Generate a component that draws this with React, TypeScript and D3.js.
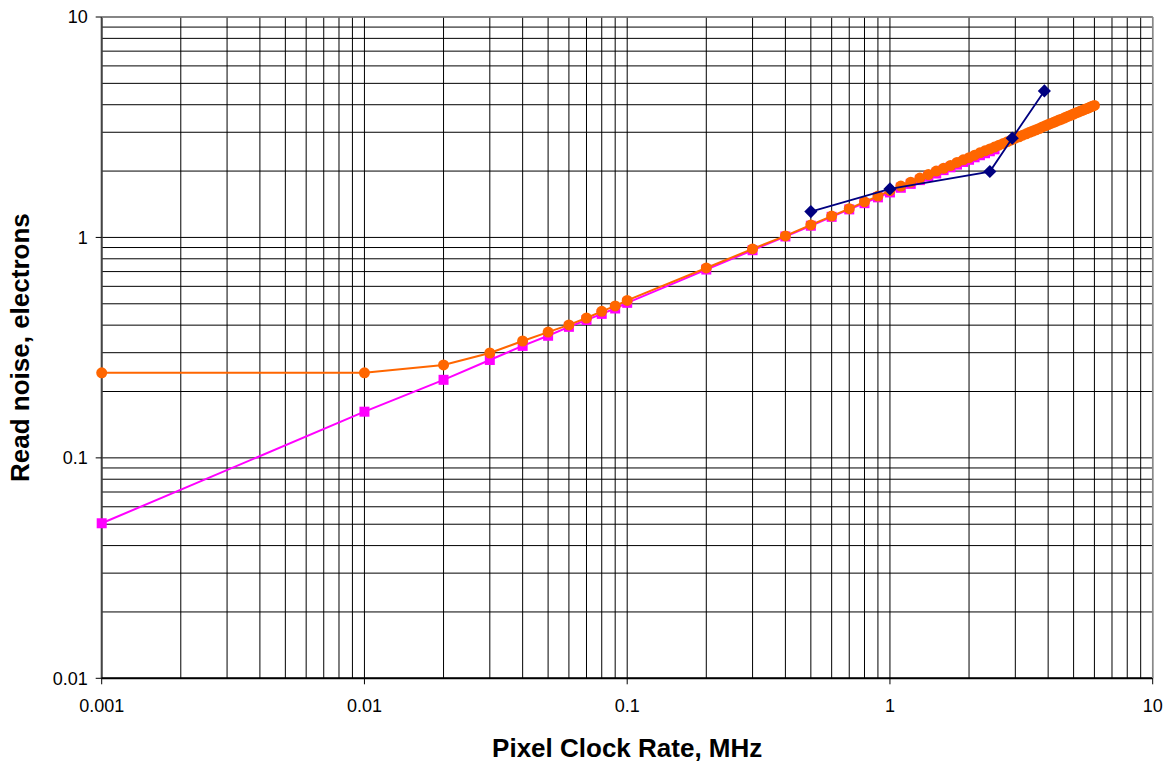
import React from "react";
import * as d3 from "d3";

const orangeX = [0.001, 0.01, 0.02, 0.03, 0.04, 0.05, 0.06, 0.07, 0.08, 0.09, 0.1, 0.2, 0.3, 0.4, 0.5, 0.6, 0.7, 0.8, 0.9, 1.0,
  1.1, 1.2, 1.3, 1.4, 1.5, 1.6, 1.7, 1.8, 1.9, 2.0, 2.1, 2.2, 2.3, 2.4, 2.5, 2.6, 2.7, 2.8, 2.9, 3.0,
  3.1, 3.2, 3.3, 3.4, 3.5, 3.6, 3.7, 3.8, 3.9, 4.0, 4.1, 4.2, 4.3, 4.4, 4.5, 4.6, 4.7, 4.8, 4.9, 5.0,
  5.1, 5.2, 5.3, 5.4, 5.5, 5.6, 5.7, 5.8, 5.9, 6.0];
const orangeY = [0.243, 0.243, 0.264, 0.299, 0.339, 0.372, 0.401, 0.431, 0.462, 0.489, 0.518, 0.727, 0.887, 1.016, 1.14, 1.25, 1.35, 1.45, 1.54, 1.63,
  1.71, 1.78, 1.86, 1.93, 2.0, 2.06, 2.12, 2.19, 2.25, 2.3, 2.36, 2.42, 2.47, 2.52, 2.57, 2.62, 2.67, 2.72, 2.77, 2.82,
  2.86, 2.91, 2.95, 3.0, 3.04, 3.08, 3.12, 3.17, 3.21, 3.25, 3.29, 3.33, 3.37, 3.41, 3.44, 3.48, 3.52, 3.56, 3.59, 3.63,
  3.67, 3.7, 3.74, 3.77, 3.81, 3.84, 3.87, 3.91, 3.94, 3.97];

const magentaX = [0.001, 0.01, 0.02, 0.03, 0.04, 0.05, 0.06, 0.07, 0.08, 0.09, 0.1, 0.2, 0.3, 0.4, 0.5, 0.6, 0.7, 0.8, 0.9, 1.0,
  1.1, 1.2, 1.3, 1.4, 1.5, 1.6, 1.7, 1.8, 1.9, 2.0, 2.1, 2.2, 2.3, 2.4, 2.5];
const magentaY = [0.0505, 0.162, 0.226, 0.278, 0.322, 0.358, 0.393, 0.422, 0.45, 0.476, 0.505, 0.715, 0.875, 1.01, 1.13, 1.24, 1.34, 1.43, 1.52, 1.6,
  1.68, 1.75, 1.82, 1.89, 1.95, 2.02, 2.08, 2.14, 2.2, 2.25, 2.31, 2.36, 2.41, 2.46, 2.51];

const navyX = [0.5, 1.0, 2.4, 2.92, 3.87];
const navyY = [1.31, 1.66, 1.99, 2.82, 4.62];

const xTicks = [0.001, 0.01, 0.1, 1, 10];
const yTicks = [0.01, 0.1, 1, 10];
const xTickLabels = ["0.001", "0.01", "0.1", "1", "10"];
const yTickLabels = ["0.01", "0.1", "1", "10"];

const W = 1170, H = 763;
const L = 101.7, R = 1152.7, T = 17, B = 678.3;

export default function App() {
  const x = d3.scaleLog().domain([0.001, 10]).range([L, R]);
  const y = d3.scaleLog().domain([0.01, 10]).range([B, T]);

  const minorX: number[] = [];
  for (let e = -3; e < 1; e++) for (let m = 1; m <= 9; m++) minorX.push(m * Math.pow(10, e));
  minorX.push(10);
  const minorY: number[] = [];
  for (let e = -2; e < 1; e++) for (let m = 1; m <= 9; m++) minorY.push(m * Math.pow(10, e));
  minorY.push(10);

  const line = d3.line<[number, number]>().x(d => x(d[0])).y(d => y(d[1]));
  const orange = orangeX.map((v, i) => [v, orangeY[i]] as [number, number]);
  const magenta = magentaX.map((v, i) => [v, magentaY[i]] as [number, number]);
  const navy = navyX.map((v, i) => [v, navyY[i]] as [number, number]);
  const font = "Liberation Sans, Arial, sans-serif";

  return (
    <div style={{ position: "absolute", left: 0, top: 0 }}>
      <svg width={W} height={H} style={{ display: "block", background: "#fff" }}>
        {minorY.map((v, i) => (
          <line key={"gy" + i} x1={L} x2={R} y1={y(v)} y2={y(v)} stroke="#000" strokeWidth={1} />
        ))}
        {minorX.map((v, i) => (
          <line key={"gx" + i} x1={x(v)} x2={x(v)} y1={T} y2={B} stroke="#000" strokeWidth={1} />
        ))}
        <line x1={L} x2={L} y1={T} y2={B} stroke="#444" strokeWidth={2} />
        <line x1={L} x2={R} y1={B} y2={B} stroke="#000" strokeWidth={2} />
        <line x1={R} x2={R} y1={T} y2={B} stroke="#888" strokeWidth={1.5} />
        <line x1={L} x2={R} y1={T} y2={T} stroke="#888" strokeWidth={1.5} />
        {yTicks.map((v, i) => (
          <g key={"yt" + i}>
            <line x1={L - 6} x2={L} y1={y(v)} y2={y(v)} stroke="#000" strokeWidth={1} />
            <text x={L - 14} y={y(v)} dy="0.36em" textAnchor="end" fontFamily={font} fontSize={18} fill="#000">{yTickLabels[i]}</text>
          </g>
        ))}
        {xTicks.map((v, i) => (
          <g key={"xt" + i}>
            <line x1={x(v)} x2={x(v)} y1={B} y2={B + 6} stroke="#000" strokeWidth={1} />
            <text x={x(v)} y={B + 34} textAnchor="middle" fontFamily={font} fontSize={18} fill="#000">{xTickLabels[i]}</text>
          </g>
        ))}
        <path d={line(magenta) || ""} fill="none" stroke="#FF00FF" strokeWidth={2} />
        {magenta.map((d, i) => (
          <rect key={"m" + i} x={x(d[0]) - 5} y={y(d[1]) - 5} width={10} height={10} fill="#FF00FF" />
        ))}
        <path d={line(orange) || ""} fill="none" stroke="#FF6600" strokeWidth={2} />
        {orange.map((d, i) => (
          <circle key={"o" + i} cx={x(d[0])} cy={y(d[1])} r={5.5} fill="#FF6600" />
        ))}
        <path d={line(navy) || ""} fill="none" stroke="#000080" strokeWidth={1.8} />
        {navy.map((d, i) => (
          <path key={"n" + i} d={d3.symbol(d3.symbolDiamond2, 110)() || ""} transform={`translate(${x(d[0])},${y(d[1])})`} fill="#000080" />
        ))}
        <text x={(L + R) / 2} y={757} textAnchor="middle" fontFamily={font} fontWeight="bold" fontSize={26} fill="#000">Pixel Clock Rate, MHz</text>
        <text transform={`translate(29,${(T + B) / 2}) rotate(-90)`} textAnchor="middle" fontFamily={font} fontWeight="bold" fontSize={26} fill="#000">Read noise, electrons</text>
      </svg>
    </div>
  );
}
